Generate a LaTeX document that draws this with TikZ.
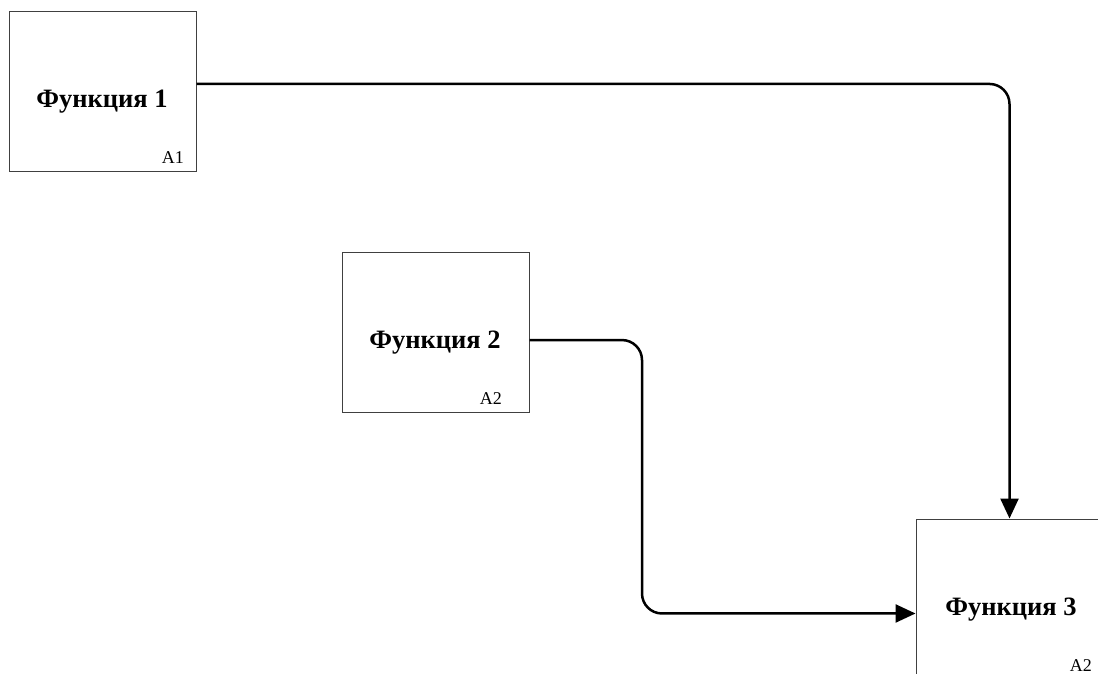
\documentclass[tikz,border=0pt]{standalone}
\usepackage{fontspec}
\setmainfont{Liberation Serif}
\usepackage{tikz}
\usetikzlibrary{arrows.meta, calc}

\tikzset{
  funcbox/.style={draw=black!75, line width=1pt, minimum width=187pt, minimum height=160pt, inner sep=0pt},
  functitle/.style={font=\fontsize{26.5}{30}\selectfont\bfseries, inner sep=0pt, anchor=base},
  funcnum/.style={font=\fontsize{18}{21}\selectfont, inner sep=0pt, anchor=base east},
  flow/.style={line width=2.5pt, rounded corners=20pt, -{Triangle[length=20pt,width=18pt]}}
}

\begin{document}
\begin{tikzpicture}[x=1pt, y=-1pt]
\clip (0,0) rectangle (1098,674);
\fill[white] (0,0) rectangle (1098,674);
% Functions
\node[funcbox] (f1) at (102.5,92) {};
\node[funcbox] (f2) at (435.5,332) {};
\node[funcbox] (f3) at (1009.5,599) {};
\node[functitle] (t1) at (102,108) {Функция 1};
\node[functitle] (t2) at (435,348) {Функция 2};
\node[functitle] (t3) at (1011,615) {Функция 3};
\node[funcnum] (n1) at (184,164) {A1};
\node[funcnum] (n2) at (502,404) {A2};
\node[funcnum] (n3) at (1092,671) {A2};
% Arrows
\coordinate (o1) at ($(f1.north east)!0.45!(f1.south east)$);
\coordinate (o2) at ($(f2.north east)!0.55!(f2.south east)$);
\coordinate (i3) at ($(f3.north west)!0.59!(f3.south west)$);
\coordinate (bend) at (642,340);
\draw[flow] (o1) -| (f3.north);
\draw[flow] (o2) -| (bend |- i3) -- (i3);
\end{tikzpicture}
\end{document}
